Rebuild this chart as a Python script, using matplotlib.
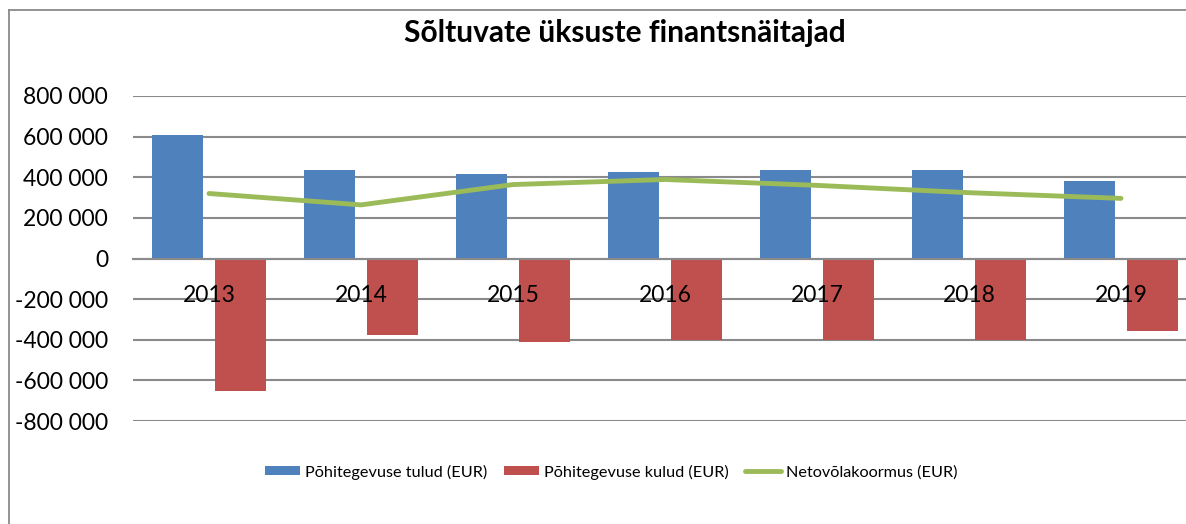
import numpy as np
import matplotlib.pyplot as plt
from matplotlib.lines import Line2D
from matplotlib.ticker import FuncFormatter

years = ["2013", "2014", "2015", "2016", "2017", "2018", "2019"]
tulud = [610000, 437000, 415000, 425000, 437000, 437000, 384000]
kulud = [-650000, -378000, -412000, -400000, -400000, -400000, -358000]
netovolg = [320000, 264000, 364000, 389000, 360000, 324000, 296000]

title = "Sõltuvate üksuste finantsnäitajad"
labels = ["Põhitegevuse tulud (EUR)", "Põhitegevuse kulud (EUR)", "Netovõlakoormus (EUR)"]

blue = "#4f81bd"
red = "#c0504d"
green = "#9bbb59"
grid = "#8a8a8a"

plt.rcParams["font.family"] = ["Lato", "DejaVu Sans"]

W, H = 1186, 524
fig = plt.figure(figsize=(W / 100, H / 100), dpi=100)

# outer chart frame (cropped on the right and bottom)
fig.add_artist(Line2D([9 / W, 9 / W], [0, 1 - 10 / H], color=grid, lw=1.3))
fig.add_artist(Line2D([9 / W, 1], [1 - 10 / H, 1 - 10 / H], color=grid, lw=1.3))

ax = fig.add_axes([133 / W, 103 / H, 1064 / W, 325 / H])

x = np.arange(len(years))
width = 0.335
offset = 0.207
b1 = ax.bar(x - offset, tulud, width, color=blue, label=labels[0], zorder=2)
b2 = ax.bar(x + offset, kulud, width, color=red, label=labels[1], zorder=2)
l1, = ax.plot(x, netovolg, color=green, lw=3.5, solid_capstyle="round", label=labels[2], zorder=3)

ax.set_xlim(-0.5, len(years) - 0.5)
ax.set_ylim(-800000, 800000)
ax.set_yticks(np.arange(-800000, 800001, 200000))
ax.yaxis.set_major_formatter(FuncFormatter(lambda v, p: f"{int(v):,}".replace(",", " ")))
ax.grid(axis="y", color=grid, lw=1.5, zorder=0)
ax.set_axisbelow(True)

for s in ["top", "right", "left"]:
    ax.spines[s].set_visible(False)
ax.spines["bottom"].set_position(("data", 0))
ax.spines["bottom"].set_color(grid)
ax.spines["bottom"].set_linewidth(1.5)

# category labels sit just under the zero line, above the bars
ax.set_xticks(x)
ax.set_xticklabels([])
ax.tick_params(axis="x", length=0)
for i, yr in enumerate(years):
    ax.annotate(yr, (i, 0), xytext=(0, -19), textcoords="offset points",
                ha="center", va="top", fontsize=16.5, zorder=5)
ax.tick_params(axis="y", length=0, pad=18, labelsize=16.5)

fig.text(625 / W, 1 - 33 / H, title, ha="center", va="center",
         fontsize=21.5, fontweight="bold")

fig.legend(handles=[b1, b2, l1], loc="center", bbox_to_anchor=(611 / W, 1 - 472 / H),
           ncol=3, frameon=False, fontsize=11.7, handlelength=2.2, handleheight=0.5,
           columnspacing=1.0, handletextpad=0.3)

fig.savefig("out.png", dpi=100)
